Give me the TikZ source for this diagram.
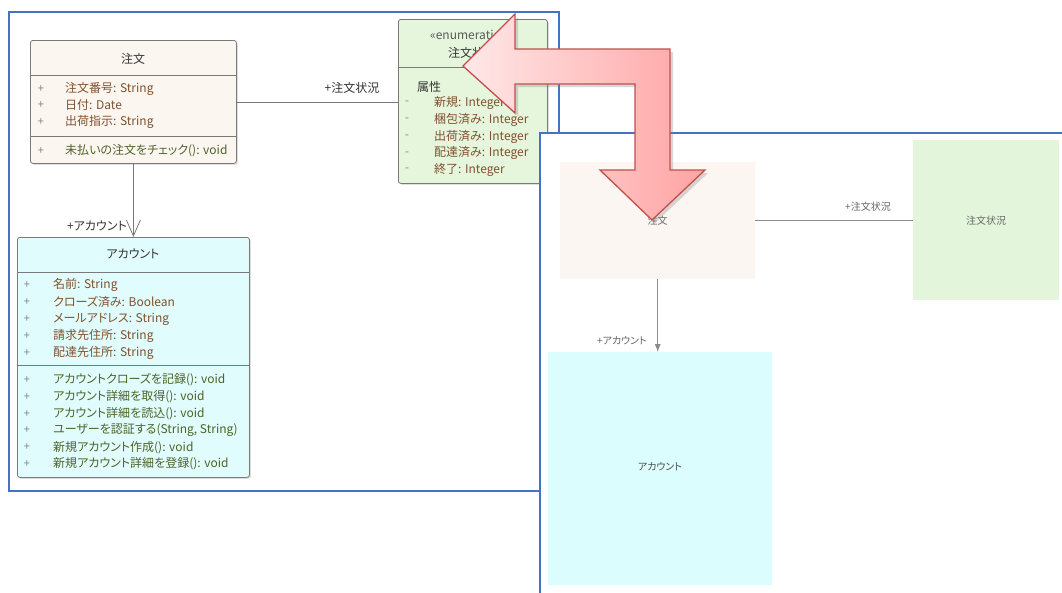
\documentclass[tikz,border=0pt]{standalone}
\usepackage{fontspec}
\setmainfont{Noto Sans CJK JP}[RawFeature=+palt]
\usetikzlibrary{arrows.meta,shadows}
\definecolor{panelblue}{HTML}{4472C4}
\definecolor{boxline}{HTML}{7A7A7A}
\definecolor{ordfill}{HTML}{FCF6F1}
\definecolor{enumfill}{HTML}{E5F6DD}
\definecolor{accfill}{HTML}{E0FCFC}
\definecolor{attrcol}{HTML}{80512E}
\definecolor{methcol}{HTML}{4F6228}
\definecolor{titlecol}{HTML}{333333}
\definecolor{markcol}{HTML}{808080}
\definecolor{rordfill}{HTML}{FCF6F3}
\definecolor{renumfill}{HTML}{E3F6DC}
\definecolor{raccfill}{HTML}{DCFDFD}
\definecolor{arrowred}{HTML}{C0504D}
\definecolor{arrowlight}{HTML}{FFE8E8}
\definecolor{arrowdark}{HTML}{FFA3A3}
\tikzset{
  panel/.style={draw=panelblue, line width=1.3pt},
  classbox/.style={draw=boxline, line width=0.8pt, rounded corners=2.5pt, inner sep=0pt,
    drop shadow={opacity=0.25, shadow xshift=1.5pt, shadow yshift=-1.5pt}},
  sepline/.style={draw=boxline, line width=0.8pt},
  clstitle/.style={font=\fontsize{12}{14}\selectfont, text=titlecol, inner sep=0pt},
  attrtxt/.style={font=\fontsize{12}{14}\selectfont, text=attrcol, anchor=west, inner sep=0pt},
  methtxt/.style={font=\fontsize{12}{14}\selectfont, text=methcol, anchor=west, inner sep=0pt},
  vismark/.style={font=\fontsize{11}{12}\selectfont, text=markcol, anchor=center, inner sep=0pt},
  assoc/.style={draw=boxline, line width=0.8pt},
  lbltxt/.style={font=\fontsize{12}{14}\selectfont, text=titlecol, inner sep=0pt},
  fadedbox/.style={inner sep=0pt, draw=none},
  fadedtxt/.style={font=\fontsize{10}{12}\selectfont, text=black!60, inner sep=0pt},
  fadedline/.style={draw=black!45, line width=0.8pt},
  bigarrow/.style={draw=arrowred, line width=1.3pt, line join=miter, left color=arrowlight, right color=arrowdark,
    drop shadow={opacity=0.3, shadow xshift=3pt, shadow yshift=-3pt}}
}
\begin{document}
\begin{tikzpicture}[x=1pt,y=-1pt]
\useasboundingbox (0,0) rectangle (1062,592);
\fill[white] (0,0) rectangle (1062,592);
% ---------------- left panel ----------------
\draw[panel] (9,12) rectangle (559,491);

% 注文 class
\node[classbox, fill=ordfill, minimum width=206pt, minimum height=123pt, anchor=north west] (order) at (30,40) {};
\draw[sepline] (order.west |- 0,75) -- (order.east |- 0,75);
\draw[sepline] (order.west |- 0,136) -- (order.east |- 0,136);
\node[clstitle] (ordertitle) at (133,59) {注文};
\foreach \t [count=\i] in {注文番号: String, 日付: Date, 出荷指示: String}{
  \node[vismark] (orderm\i) at (41,{72+16.7*\i}) {+};
  \node[attrtxt] (ordera\i) at (65,{72+16.7*\i}) {\t};
}
\node[vismark] (ordermm) at (41,151) {+};
\node[methtxt] (orderop) at (65,151) {未払いの注文をチェック(): void};

% enumeration
\node[classbox, fill=enumfill, minimum width=149pt, minimum height=164pt, anchor=north west] (enum) at (398,19) {};
\draw[sepline] (enum.west |- 0,67) -- (enum.east |- 0,67);
\node[clstitle, text=black!65] (enumst) at (472,35) {«enumeration»};
\node[clstitle] (enumtitle) at (472,53) {注文状況};
\node[attrtxt, text=titlecol] (enumattr) at (417,87) {属性};
\foreach \t [count=\i] in {新規: Integer, 梱包済み: Integer, 出荷済み: Integer, 配達済み: Integer, 終了: Integer}{
  \node[vismark] (enumm\i) at (407,{86.2+16.8*\i}) {-};
  \node[attrtxt] (enuma\i) at (434,{86.2+16.8*\i}) {\t};
}

% アカウント class
\node[classbox, fill=accfill, minimum width=232pt, minimum height=240pt, anchor=north west] (acc) at (17,237) {};
\draw[sepline] (acc.west |- 0,272) -- (acc.east |- 0,272);
\draw[sepline] (acc.west |- 0,365) -- (acc.east |- 0,365);
\node[clstitle] (acctitle) at (133,254) {アカウント};
\foreach \t [count=\i] in {名前: String, クローズ済み: Boolean, メールアドレス: String, 請求先住所: String, 配達先住所: String}{
  \node[vismark] (accm\i) at (27,{268+17*\i}) {+};
  \node[attrtxt] (acca\i) at (53,{268+17*\i}) {\t};
}
\foreach \t [count=\i] in {アカウントクローズを記録(): void, アカウント詳細を取得(): void, アカウント詳細を読込(): void, {ユーザーを認証する(String, String)}, 新規アカウント作成(): void, 新規アカウント詳細を登録(): void}{
  \node[vismark] (accn\i) at (27,{363.2+16.8*\i}) {+};
  \node[methtxt] (acco\i) at (53,{363.2+16.8*\i}) {\t};
}

% connectors
\draw[assoc] (order.east) -- (order.east -| enum.west);
\node[lbltxt] (lstatus) at (352,88) {+注文状況};
\draw[assoc, -{Straight Barb[length=16pt,width=14pt,line width=0.8pt]}] (order.south) -- (order.south |- acc.north);
\node[lbltxt] (lacc) at (97,226) {+アカウント};

% ---------------- right panel ----------------
\draw[panel, fill=white] (540,133) rectangle (1080,610);
\node[fadedbox, fill=rordfill, minimum width=195pt, minimum height=117pt, anchor=north west] (rorder) at (560,162) {};
\node[fadedtxt] (rordertxt) at (rorder.center) {注文};
\node[fadedbox, fill=renumfill, minimum width=146pt, minimum height=160pt, anchor=north west] (renum) at (913,140) {};
\node[fadedtxt] (renumtxt) at (renum.center) {注文状況};
\node[fadedbox, fill=raccfill, minimum width=224pt, minimum height=233pt, anchor=north west] (racc) at (548,352) {};
\node[fadedtxt, text=black!70] (racctxt) at (660,467) {アカウント};
\draw[fadedline] (rorder.east) -- (rorder.east -| renum.west);
\node[fadedtxt] (rlstatus) at (868,207) {+注文状況};
\draw[fadedline, -{Latex[length=8pt,width=6pt]}] (rorder.south) -- (rorder.south |- racc.north);
\node[fadedtxt] (rlacc) at (622,341) {+アカウント};

% ---------------- big red arrow ----------------
\path[bigarrow] (463,66) -- (515,14) -- (515,49) -- (670,49) -- (670,170) -- (705,170)
  -- (652,220) -- (600,170) -- (635,170) -- (635,84) -- (515,84) -- (515,113) -- cycle;
\end{tikzpicture}
\end{document}
